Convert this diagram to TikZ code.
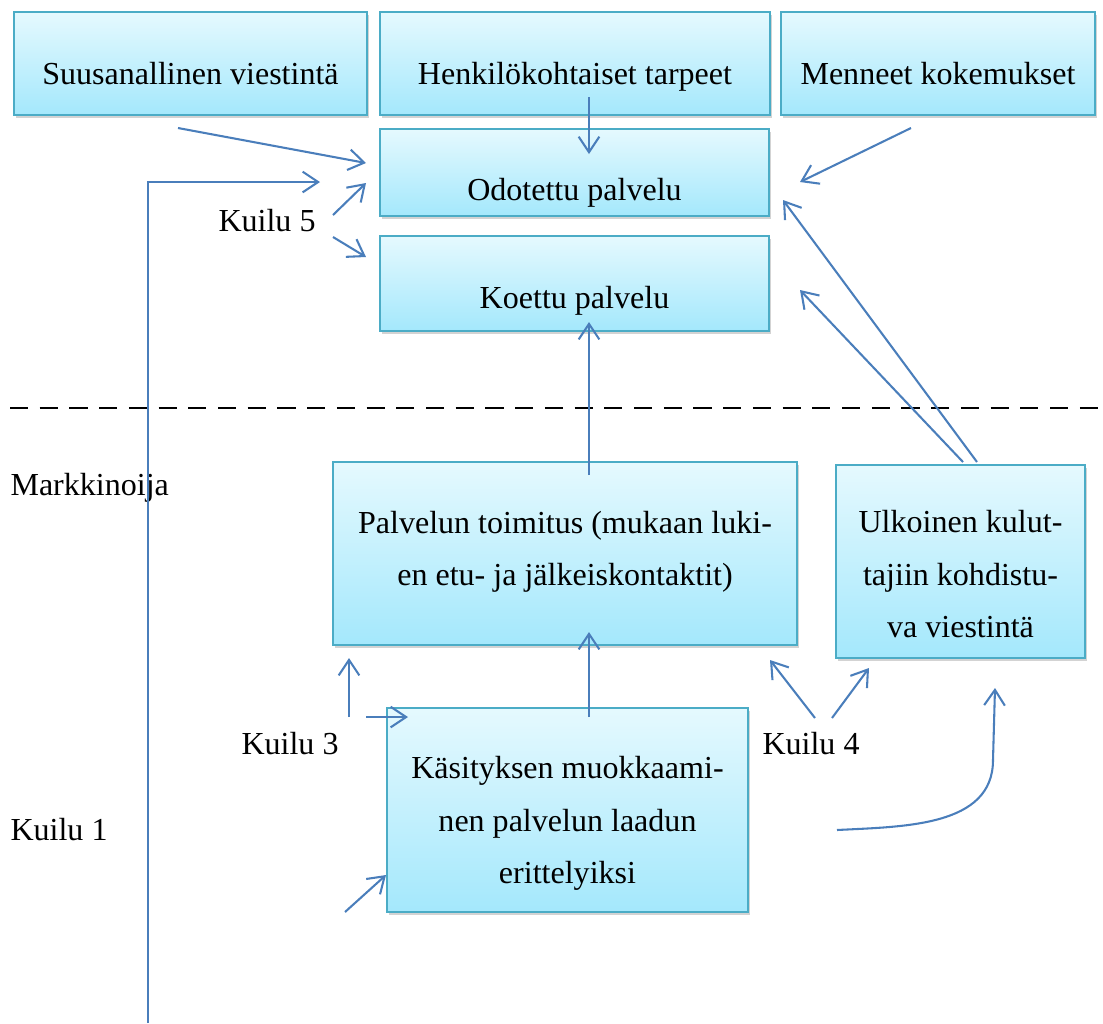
\documentclass[tikz,border=0pt]{standalone}
\usepackage{fontspec}
\setmainfont{Liberation Serif}
\usetikzlibrary{arrows.meta,shadows}

\definecolor{boxline}{RGB}{75,172,198}
\definecolor{boxtop}{RGB}{229,249,254}
\definecolor{boxbot}{RGB}{164,232,252}
\definecolor{arrowblue}{RGB}{74,126,187}

\tikzset{
  box/.style={rectangle, draw=boxline, line width=0.8pt,
    top color=boxtop, bottom color=boxbot,
    drop shadow={opacity=0.35, shadow xshift=0.9pt, shadow yshift=-1.3pt},
    inner sep=0pt, align=center, text depth=0pt,
    font=\fontsize{12.4}{20.3}\selectfont},
  arr/.style={draw=arrowblue, line width=0.8pt,
    -{Straight Barb[length=6pt,width=8pt]}},
  lbl/.style={anchor=base west, inner sep=0pt,
    font=\fontsize{12.4}{14}\selectfont}
}

\begin{document}
\begin{tikzpicture}[x=0.387pt,y=-0.387pt]
      \useasboundingbox (0,0) rectangle (1103,1023);

      \begin{scope}[every node/.style={box}]
        \node[minimum width=136.6pt, minimum height=39.9pt, text height=16.5pt] (1) at (190.5,63.5) {Suusanallinen viestintä};
        \node[minimum width=150.9pt, minimum height=39.9pt, text height=16.5pt] (2) at (575,63.5) {Henkilökohtaiset tarpeet};
        \node[minimum width=121.5pt, minimum height=39.9pt, text height=16.5pt] (3) at (938,63.5) {Menneet kokemukset};
        \node[minimum width=150.5pt, minimum height=33.7pt, text height=22pt] (4) at (574.5,172.5) {Odotettu palvelu};
        \node[minimum width=150.5pt, minimum height=36.8pt, text height=19pt] (5) at (574.5,283.5) {Koettu palvelu};
        \node[minimum width=179.6pt, minimum height=70.8pt, text height=25pt] (6) at (565,553.5) {Palvelun toimitus (mukaan luki-\\en etu- ja jälkeiskontaktit)};
        \node[minimum width=96.4pt, minimum height=74.7pt, text height=59pt] (7) at (960.5,561.5) {Ulkoinen kulut-\\tajiin kohdistu-\\va viestintä};
        \node[minimum width=139.7pt, minimum height=78.9pt, text height=57pt] (8) at (567.5,810) {Käsityksen muokkaami-\\nen palvelun laadun\\erittelyiksi};
      \end{scope}

      \node[lbl] (9)  at (10,495)  {Markkinoija};
      \node[lbl] (10) at (10,840)  {Kuilu 1};
      \node[lbl] (11) at (218,231) {Kuilu 5};
      \node[lbl] (12) at (241,754) {Kuilu 3};
      \node[lbl] (13) at (762,754) {Kuilu 4};

      \coordinate (l1) at (10,408);
      \coordinate (l2) at (1103,408);
      \draw[line width=0.6pt, dash pattern=on 7pt off 4.5pt] (l1) -- (l2);

      \coordinate (a1) at (178,128);  \coordinate (a2) at (366,163);
      \coordinate (b1) at (589,97);   \coordinate (b2) at (589,154);
      \coordinate (c1) at (911,128);  \coordinate (c2) at (800,182);
      \coordinate (d1) at (148,1023); \coordinate (d2) at (320,182);
      \coordinate (e1) at (333,215);  \coordinate (e2) at (366,183);
      \coordinate (f1) at (333,237);  \coordinate (f2) at (366,257);
      \coordinate (g1) at (963,462);  \coordinate (g2) at (800,290);
      \coordinate (h1) at (977,462);  \coordinate (h2) at (783,200);
      \coordinate (i1) at (589,475);  \coordinate (i2) at (589,322);
      \coordinate (j1) at (589,717);  \coordinate (j2) at (589,632);
      \coordinate (k1) at (349,717);  \coordinate (k2) at (349,658);
      \coordinate (m1) at (366,717);  \coordinate (m2) at (408,717);
      \coordinate (n1) at (815,718);  \coordinate (n2) at (770,660);
      \coordinate (o1) at (832,718);  \coordinate (o2) at (869,668);
      \coordinate (p1) at (837,830);  \coordinate (p2) at (993,760);
      \coordinate (p3) at (995,688);
      \coordinate (q1) at (345,912);  \coordinate (q2) at (386,875);

      \begin{scope}[every edge/.style={arr}]
        \path (a1) edge (a2);
        \path (b1) edge (b2);
        \path (c1) edge (c2);
        \path (e1) edge (e2);
        \path (f1) edge (f2);
        \path (g1) edge (g2);
        \path (h1) edge (h2);
        \path (i1) edge (i2);
        \path (j1) edge (j2);
        \path (k1) edge (k2);
        \path (m1) edge (m2);
        \path (n1) edge (n2);
        \path (o1) edge (o2);
        \path (q1) edge (q2);
      \end{scope}

      \draw[arr] (d1) |- (d2);
      \draw[arr] (p1) to[out=3,in=-90] (p2) -- (p3);

    \end{tikzpicture}
\end{document}
